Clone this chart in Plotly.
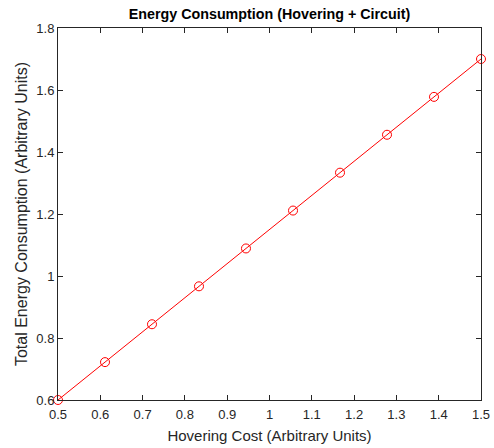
import plotly.graph_objects as go

hovering_cost = [0.5, 0.6111, 0.7222, 0.8333, 0.9444, 1.0556, 1.1667, 1.2778, 1.3889, 1.5]
total_energy = [0.6, 0.7222, 0.8444, 0.9667, 1.0889, 1.2111, 1.3333, 1.4556, 1.5778, 1.7]
x_ticks = [0.5, 0.6, 0.7, 0.8, 0.9, 1.0, 1.1, 1.2, 1.3, 1.4, 1.5]
x_tick_labels = ["0.5", "0.6", "0.7", "0.8", "0.9", "1", "1.1", "1.2", "1.3", "1.4", "1.5"]
y_ticks = [0.6, 0.8, 1.0, 1.2, 1.4, 1.6, 1.8]
y_tick_labels = ["0.6", "0.8", "1", "1.2", "1.4", "1.6", "1.8"]

font = "Liberation Sans, Arial, sans-serif"

fig = go.Figure()
fig.add_trace(go.Scatter(
    x=hovering_cost, y=total_energy, mode="lines+markers",
    line=dict(color="#ff0000", width=1),
    marker=dict(symbol="circle-open", size=9, color="#ff0000", line=dict(width=1)),
    cliponaxis=False, showlegend=False,
))

axis_common = dict(
    showgrid=False, zeroline=False, showline=True, linecolor="#262626", linewidth=1,
    mirror="ticks", ticks="inside", ticklen=5, tickcolor="#262626", automargin=False,
    tickfont=dict(family=font, size=13, color="#262626"),
)

fig.update_layout(
    width=494, height=448,
    margin=dict(l=58, r=13, t=28, b=48),
    paper_bgcolor="white", plot_bgcolor="white",
    title=dict(text="<b>Energy Consumption (Hovering + Circuit)</b>", x=0.5, xanchor="center",
               xref="paper", y=1, yref="paper", yanchor="bottom", pad=dict(b=9),
               font=dict(family=font, size=14.3, color="black")),
    xaxis=dict(range=[0.5, 1.5], tickvals=x_ticks, ticktext=x_tick_labels, ticklabelstandoff=2,
               title=dict(text="Hovering Cost (Arbitrary Units)", standoff=9,
                          font=dict(family=font, size=15, color="#262626")),
               **axis_common),
    yaxis=dict(range=[0.6, 1.8], tickvals=y_ticks, ticktext=y_tick_labels,
               title=dict(text="Total Energy Consumption (Arbitrary Units)", standoff=4,
                          font=dict(family=font, size=16, color="#262626")),
               **axis_common),
)

fig.write_html("out.html")
